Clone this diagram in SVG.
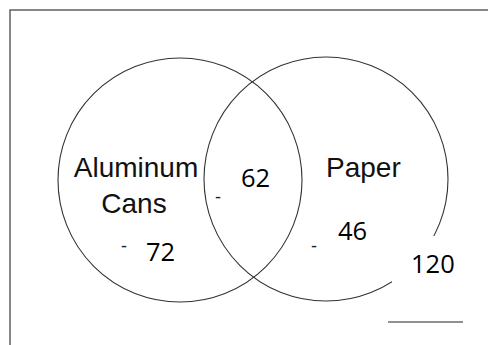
<svg xmlns="http://www.w3.org/2000/svg" width="488" height="345" viewBox="0 0 488 345">
  <style>
    .circle { fill: none; stroke: #333; stroke-width: 1.1; }
    .label { font-family: "Liberation Sans", Arial, sans-serif; font-size: 28px; fill: #111; }
    .num { font-family: "Open Sans", "Noto Sans", sans-serif; font-size: 25.5px; fill: #000; }
    .dash { font-family: "Liberation Sans", Arial, sans-serif; font-size: 18px; fill: #222; }
  </style>
  <rect x="0" y="0" width="488" height="345" fill="#fff"/>
  <rect id="frame" x="10" y="10" width="500" height="360" fill="none" stroke="#555" stroke-width="1.4"/>
  <g id="sets">
    <g id="aluminum">
      <circle class="circle" cx="180" cy="180" r="122"/>
    </g>
    <g id="paper">
      <circle class="circle" cx="326" cy="179" r="122"/>
    </g>
  </g>
  <g id="connectors"></g>
  <g id="labels">
    <text class="label" x="136" y="177" text-anchor="middle">Aluminum</text>
    <text class="label" x="134" y="213" text-anchor="middle">Cans</text>
    <text class="label" x="326" y="177">Paper</text>
    <text class="num" x="241" y="187">62</text>
    <text class="num" x="146" y="261">72</text>
    <text class="num" x="338" y="240">46</text>
    <rect x="392" y="236" width="80" height="50" fill="#fff"/>
    <text class="num" x="411" y="273">120</text>
    <text class="dash" x="121" y="252">-</text>
    <text class="dash" x="215" y="203">-</text>
    <text class="dash" x="311" y="252">-</text>
    <line x1="388" y1="322" x2="463" y2="322" stroke="#222" stroke-width="1.2"/>
  </g>
</svg>
